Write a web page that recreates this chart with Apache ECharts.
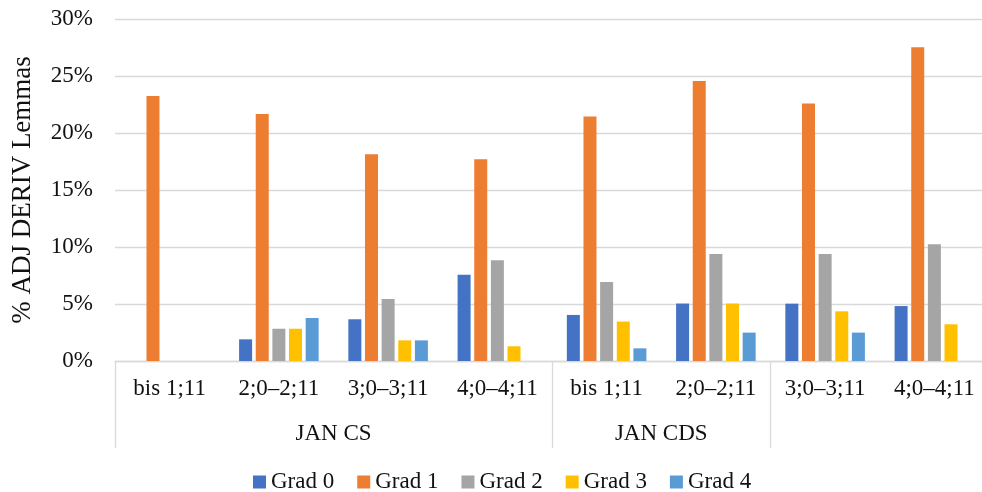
<!DOCTYPE html>
<html>
<head>
<meta charset="utf-8">
<script src="https://cdn.jsdelivr.net/npm/echarts@6/dist/echarts.min.js"></script>
<style>
  html, body { margin: 0; padding: 0; background: #fff; overflow: hidden; }
  #wrap { width: 982px; height: 492px; overflow: hidden; }
  /* the plot runs slightly past the right edge of the visible area */
  #chart { width: 992px; height: 492px; }
</style>
</head>
<body>
<div id="wrap"><div id="chart"></div></div>
<script>
// Age bands (first-level category labels)
const categories = ['bis 1;11', '2;0–2;11', '3;0–3;11', '4;0–4;11',
                    'bis 1;11', '2;0–2;11', '3;0–3;11', '4;0–4;11'];

// Corpus groups (second-level labels) and how many age bands each covers
const groupNames = ['JAN CS', 'JAN CDS', ''];
const groupSpans = [4, 2, 2];

// Share of ADJ DERIV lemmas per grade, in percent
const grad0 = [0, 1.9, 3.66, 7.57, 4.04, 5.04, 5.03, 4.82];
const grad1 = [23.25, 21.67, 18.13, 17.69, 21.44, 24.56, 22.58, 27.52];
const grad2 = [0, 2.83, 5.44, 8.83, 6.93, 9.39, 9.39, 10.24];
const grad3 = [0, 2.83, 1.81, 1.29, 3.46, 5.04, 4.36, 3.22];
const grad4 = [0, 3.77, 1.81, 0, 1.11, 2.49, 2.49, 0];

const seriesNames = ['Grad 0', 'Grad 1', 'Grad 2', 'Grad 3', 'Grad 4'];
const seriesData = [grad0, grad1, grad2, grad3, grad4];
const colors = ['#4472C4', '#ED7D31', '#A5A5A5', '#FFC000', '#5B9BD5'];

// Y-axis ticks
const yMin = 0, yMax = 30, yStep = 5;

const FONT = "'Liberation Serif', 'Times New Roman', serif";
const TEXT = '#111';
const LINE = '#d9d9d9';

// Group axis: half-category slots with points on category boundaries,
// so group names sit centred over their span and dividers fall on edges.
const slotCount = categories.length * 2 + 1;
const groupSlots = new Array(slotCount).fill('');
const dividerSlots = new Set([0]);
let start = 0;
groupNames.forEach((name, i) => {
  const end = start + groupSpans[i];
  groupSlots[start + end] = name;   // midpoint in half-category units
  dividerSlots.add(end * 2);
  start = end;
});

const chart = echarts.init(document.getElementById('chart'), null, { renderer: 'canvas' });

chart.setOption({
  animation: false,
  color: colors,
  textStyle: { fontFamily: FONT },
  grid: { left: 115, top: 19, right: 0, height: 342, containLabel: false },
  legend: {
    data: seriesNames,
    left: 253,
    top: 469,
    padding: 0,
    itemWidth: 13,
    itemHeight: 13,
    itemGap: 23,
    icon: 'rect',
    textStyle: { fontFamily: FONT, fontSize: 23, color: TEXT, lineHeight: 26 }
  },
  xAxis: [
    {
      type: 'category',
      data: categories,
      position: 'bottom',
      axisLine: { show: true, lineStyle: { color: LINE, width: 1.3 } },
      axisTick: { show: false },
      axisLabel: { interval: 0, margin: 16, fontFamily: FONT, fontSize: 23, color: TEXT },
      splitLine: { show: false }
    },
    {
      type: 'category',
      data: groupSlots,
      position: 'bottom',
      offset: 0,
      boundaryGap: false,
      axisLine: { show: false },
      axisTick: {
        show: true,
        length: 87,
        interval: (idx) => dividerSlots.has(idx),
        lineStyle: { color: LINE, width: 1.3 }
      },
      axisLabel: { interval: 0, margin: 61, fontFamily: FONT, fontSize: 23, color: TEXT },
      splitLine: { show: false }
    }
  ],
  yAxis: {
    type: 'value',
    min: yMin,
    max: yMax,
    interval: yStep,
    name: '% ADJ DERIV Lemmas',
    nameLocation: 'middle',
    nameGap: 79,
    nameTextStyle: { fontFamily: FONT, fontSize: 27, color: TEXT },
    axisLine: { show: false },
    axisTick: { show: false },
    axisLabel: { formatter: '{value}%', margin: 22, fontFamily: FONT, fontSize: 23, color: TEXT },
    splitLine: { lineStyle: { color: LINE, width: 1.3 } }
  },
  series: seriesNames.map((name, i) => ({
    name,
    type: 'bar',
    xAxisIndex: 0,
    data: seriesData[i],
    barWidth: 13,
    barGap: '28%',
    itemStyle: { color: colors[i] }
  }))
});
</script>
</body>
</html>
